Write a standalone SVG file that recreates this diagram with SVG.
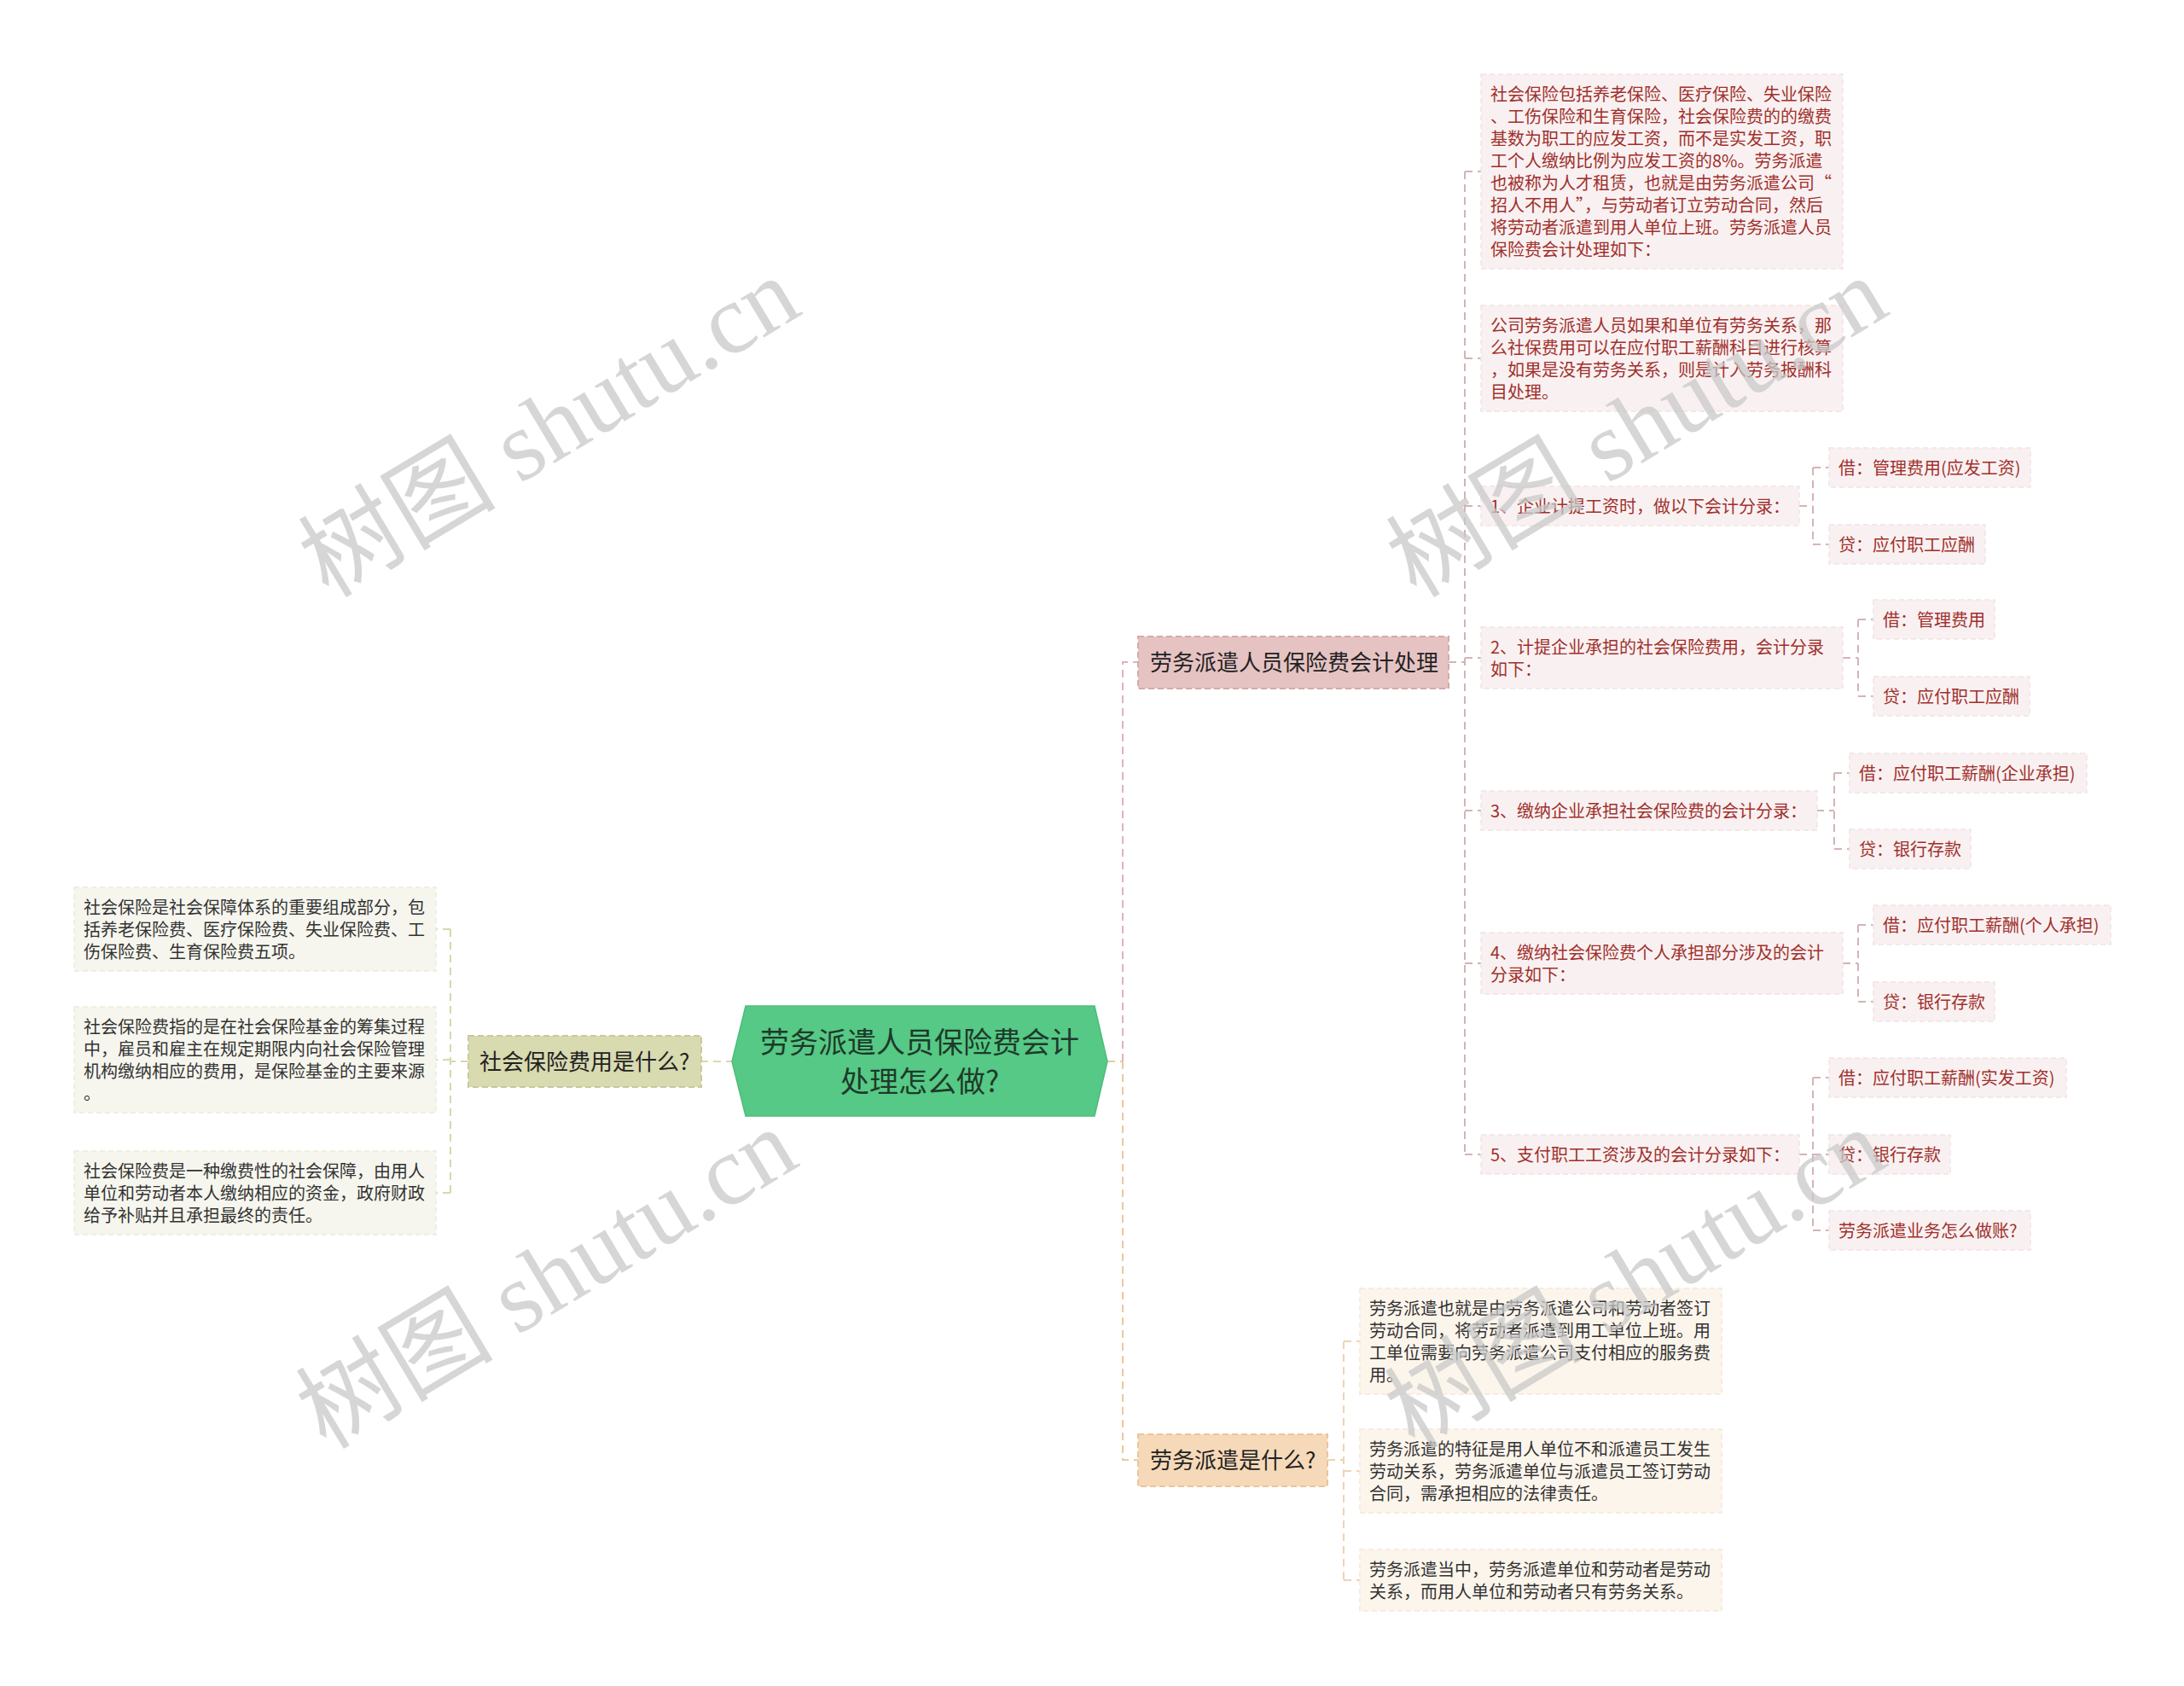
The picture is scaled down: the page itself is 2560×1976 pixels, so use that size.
<svg xmlns="http://www.w3.org/2000/svg" width="2560" height="1976" viewBox="0 0 2560 1976">
<style>
text{font-family:"Noto Sans CJK SC","Noto Sans",sans-serif;}
.leaf{font-size:20px;fill:#333333;}
.red{font-size:20px;fill:#a0302d;}
.br{font-size:26px;fill:#222222;}
.ctr{font-size:34px;fill:#1e3a2a;}
.b1l{fill:#f9f1f1;stroke:#f1e3e3;stroke-width:1.5;stroke-dasharray:6 4;}
.lfl{fill:#f6f6ee;stroke:#ebebdc;stroke-width:1.5;stroke-dasharray:6 4;}
.b2l{fill:#fcf5ec;stroke:#f4e8d8;stroke-width:1.5;stroke-dasharray:6 4;}
.cn{fill:none;stroke-width:2;stroke-dasharray:9 6;}
.wm{font-family:"Liberation Serif","Noto Sans CJK SC",serif;font-size:116px;fill:#c8c8c8;fill-opacity:0.75;}
</style>
<rect width="2560" height="1976" fill="#ffffff"/>

<g id="connectors">
<path class="cn" stroke="#ddd6b0" d="M860,1244 H822"/>
<path class="cn" stroke="#d6d8ae" d="M549,1244 H528 M528,1089 V1398 M528,1089 H511 M528,1242 H511 M528,1398 H511"/>
<path class="cn" stroke="#e8c9a8" d="M1298,1244 H1316"/>
<path class="cn" stroke="#dfb3bb" d="M1316,1244 V776 H1334"/>
<path class="cn" stroke="#efc79f" d="M1316,1244 V1711 H1334"/>
<path class="cn" stroke="#d4b4b4" d="M1698,776 H1717 M1717,201 V1353 M1717,201 H1736 M1717,420 H1736 M1717,593 H1736 M1717,771 H1736 M1717,950 H1736 M1717,1129 H1736 M1717,1353 H1736"/>
<path class="cn" stroke="#d4b4b4" d="M2109,593 H2125 M2125,548 V638 M2125,548 H2144 M2125,638 H2144"/>
<path class="cn" stroke="#d4b4b4" d="M2160,771 H2178 M2178,726 V816 M2178,726 H2196 M2178,816 H2196"/>
<path class="cn" stroke="#d4b4b4" d="M2129,950 H2150 M2150,906 V995 M2150,906 H2168 M2150,995 H2168"/>
<path class="cn" stroke="#d4b4b4" d="M2160,1129 H2178 M2178,1084 V1174 M2178,1084 H2196 M2178,1174 H2196"/>
<path class="cn" stroke="#d4b4b4" d="M2109,1353 H2125 M2125,1263 V1442 M2125,1263 H2144 M2125,1353 H2144 M2125,1442 H2144"/>
<path class="cn" stroke="#efd3b3" d="M1556,1711 H1575 M1575,1572 V1852 M1575,1572 H1594 M1575,1724 H1594 M1575,1852 H1594"/>
</g>

<g id="center">
<polygon points="858,1244 874,1179 1283,1179 1298,1244 1283,1308 874,1308" fill="#55c985" stroke="#4cbd7a" stroke-width="1.5"/>
<text class="ctr" x="1078" y="1234" text-anchor="middle">劳务派遣人员保险费会计</text>
<text class="ctr" x="1078" y="1280" text-anchor="middle">处理怎么做?</text>
</g>

<g id="branch-left">
<rect x="549" y="1214" width="273" height="60" fill="#d8dab0" stroke="#c7c99c" stroke-width="2" stroke-dasharray="7 4"/>
<text class="br" x="562" y="1254">社会保险费用是什么?</text>
</g>
<g id="left-1">
<rect class="lfl" x="87" y="1040" width="424" height="98"/>
<text class="leaf" x="98" y="1071">社会保险是社会保障体系的重要组成部分，包</text>
<text class="leaf" x="98" y="1097">括养老保险费、医疗保险费、失业保险费、工</text>
<text class="leaf" x="98" y="1123">伤保险费、生育保险费五项。</text>
</g>
<g id="left-2">
<rect class="lfl" x="87" y="1180" width="424" height="124"/>
<text class="leaf" x="98" y="1211">社会保险费指的是在社会保险基金的筹集过程</text>
<text class="leaf" x="98" y="1237">中，雇员和雇主在规定期限内向社会保险管理</text>
<text class="leaf" x="98" y="1263">机构缴纳相应的费用，是保险基金的主要来源</text>
<text class="leaf" x="98" y="1289">。</text>
</g>
<g id="left-3">
<rect class="lfl" x="87" y="1349" width="424" height="98"/>
<text class="leaf" x="98" y="1380">社会保险费是一种缴费性的社会保障，由用人</text>
<text class="leaf" x="98" y="1406">单位和劳动者本人缴纳相应的资金，政府财政</text>
<text class="leaf" x="98" y="1432">给予补贴并且承担最终的责任。</text>
</g>

<g id="branch-1">
<rect x="1334" y="746" width="364" height="61" fill="#e6c3c3" stroke="#d5aaaa" stroke-width="2" stroke-dasharray="7 4"/>
<text class="br" x="1348" y="786">劳务派遣人员保险费会计处理</text>
</g>
<g id="b1-a">
<rect class="b1l" x="1736" y="87" width="424" height="228"/>
<text class="red" x="1747" y="118">社会保险包括养老保险、医疗保险、失业保险</text>
<text class="red" x="1747" y="144">、工伤保险和生育保险，社会保险费的的缴费</text>
<text class="red" x="1747" y="170">基数为职工的应发工资，而不是实发工资，职</text>
<text class="red" x="1747" y="196">工个人缴纳比例为应发工资的8%。劳务派遣</text>
<text class="red" x="1747" y="222">也被称为人才租赁，也就是由劳务派遣公司“</text>
<text class="red" x="1747" y="248">招人不用人”，与劳动者订立劳动合同，然后</text>
<text class="red" x="1747" y="274">将劳动者派遣到用人单位上班。劳务派遣人员</text>
<text class="red" x="1747" y="300">保险费会计处理如下：</text>
</g>
<g id="b1-b">
<rect class="b1l" x="1736" y="358" width="424" height="124"/>
<text class="red" x="1747" y="389">公司劳务派遣人员如果和单位有劳务关系，那</text>
<text class="red" x="1747" y="415">么社保费用可以在应付职工薪酬科目进行核算</text>
<text class="red" x="1747" y="441">，如果是没有劳务关系，则是计入劳务报酬科</text>
<text class="red" x="1747" y="467">目处理。</text>
</g>
<g id="b1-c">
<rect class="b1l" x="1736" y="570" width="373" height="46"/>
<text class="red" x="1747" y="601">1、企业计提工资时，做以下会计分录：</text>
</g>
<g id="b1-c1">
<rect class="b1l" x="2144" y="525" width="236" height="46"/>
<text class="red" x="2155" y="556">借：管理费用(应发工资)</text>
</g>
<g id="b1-c2">
<rect class="b1l" x="2144" y="615" width="183" height="46"/>
<text class="red" x="2155" y="646">贷：应付职工应酬</text>
</g>
<g id="b1-d">
<rect class="b1l" x="1736" y="735" width="424" height="72"/>
<text class="red" x="1747" y="766">2、计提企业承担的社会保险费用，会计分录</text>
<text class="red" x="1747" y="792">如下：</text>
</g>
<g id="b1-d1">
<rect class="b1l" x="2196" y="703" width="142" height="46"/>
<text class="red" x="2207" y="734">借：管理费用</text>
</g>
<g id="b1-d2">
<rect class="b1l" x="2196" y="793" width="183" height="46"/>
<text class="red" x="2207" y="824">贷：应付职工应酬</text>
</g>
<g id="b1-e">
<rect class="b1l" x="1736" y="927" width="394" height="46"/>
<text class="red" x="1747" y="958">3、缴纳企业承担社会保险费的会计分录：</text>
</g>
<g id="b1-e1">
<rect class="b1l" x="2168" y="883" width="278" height="46"/>
<text class="red" x="2179" y="914">借：应付职工薪酬(企业承担)</text>
</g>
<g id="b1-e2">
<rect class="b1l" x="2168" y="972" width="142" height="46"/>
<text class="red" x="2179" y="1003">贷：银行存款</text>
</g>
<g id="b1-f">
<rect class="b1l" x="1736" y="1093" width="424" height="72"/>
<text class="red" x="1747" y="1124">4、缴纳社会保险费个人承担部分涉及的会计</text>
<text class="red" x="1747" y="1150">分录如下：</text>
</g>
<g id="b1-f1">
<rect class="b1l" x="2196" y="1061" width="278" height="46"/>
<text class="red" x="2207" y="1092">借：应付职工薪酬(个人承担)</text>
</g>
<g id="b1-f2">
<rect class="b1l" x="2196" y="1151" width="142" height="46"/>
<text class="red" x="2207" y="1182">贷：银行存款</text>
</g>
<g id="b1-g">
<rect class="b1l" x="1736" y="1330" width="373" height="46"/>
<text class="red" x="1747" y="1361">5、支付职工工资涉及的会计分录如下：</text>
</g>
<g id="b1-g1">
<rect class="b1l" x="2144" y="1240" width="278" height="46"/>
<text class="red" x="2155" y="1271">借：应付职工薪酬(实发工资)</text>
</g>
<g id="b1-g2">
<rect class="b1l" x="2144" y="1330" width="142" height="46"/>
<text class="red" x="2155" y="1361">贷：银行存款</text>
</g>
<g id="b1-g3">
<rect class="b1l" x="2144" y="1419" width="236" height="46"/>
<text class="red" x="2155" y="1450">劳务派遣业务怎么做账?</text>
</g>

<g id="branch-2">
<rect x="1334" y="1681" width="222" height="61" fill="#f6d9b8" stroke="#e9c59d" stroke-width="2" stroke-dasharray="7 4"/>
<text class="br" x="1348" y="1721">劳务派遣是什么?</text>
</g>
<g id="b2-1">
<rect class="b2l" x="1594" y="1510" width="424" height="124"/>
<text class="leaf" x="1605" y="1541">劳务派遣也就是由劳务派遣公司和劳动者签订</text>
<text class="leaf" x="1605" y="1567">劳动合同，将劳动者派遣到用工单位上班。用</text>
<text class="leaf" x="1605" y="1593">工单位需要向劳务派遣公司支付相应的服务费</text>
<text class="leaf" x="1605" y="1619">用。</text>
</g>
<g id="b2-2">
<rect class="b2l" x="1594" y="1675" width="424" height="98"/>
<text class="leaf" x="1605" y="1706">劳务派遣的特征是用人单位不和派遣员工发生</text>
<text class="leaf" x="1605" y="1732">劳动关系，劳务派遣单位与派遣员工签订劳动</text>
<text class="leaf" x="1605" y="1758">合同，需承担相应的法律责任。</text>
</g>
<g id="b2-3">
<rect class="b2l" x="1594" y="1816" width="424" height="72"/>
<text class="leaf" x="1605" y="1847">劳务派遣当中，劳务派遣单位和劳动者是劳动</text>
<text class="leaf" x="1605" y="1873">关系，而用人单位和劳动者只有劳务关系。</text>
</g>

<g id="watermarks">
<text class="wm" transform="translate(385,702) rotate(-31)">树图 shutu.cn</text>
<text class="wm" transform="translate(1660,702) rotate(-31)">树图 shutu.cn</text>
<text class="wm" transform="translate(382,1700) rotate(-31)">树图 shutu.cn</text>
<text class="wm" transform="translate(1658,1700) rotate(-31)">树图 shutu.cn</text>
</g>
</svg>
